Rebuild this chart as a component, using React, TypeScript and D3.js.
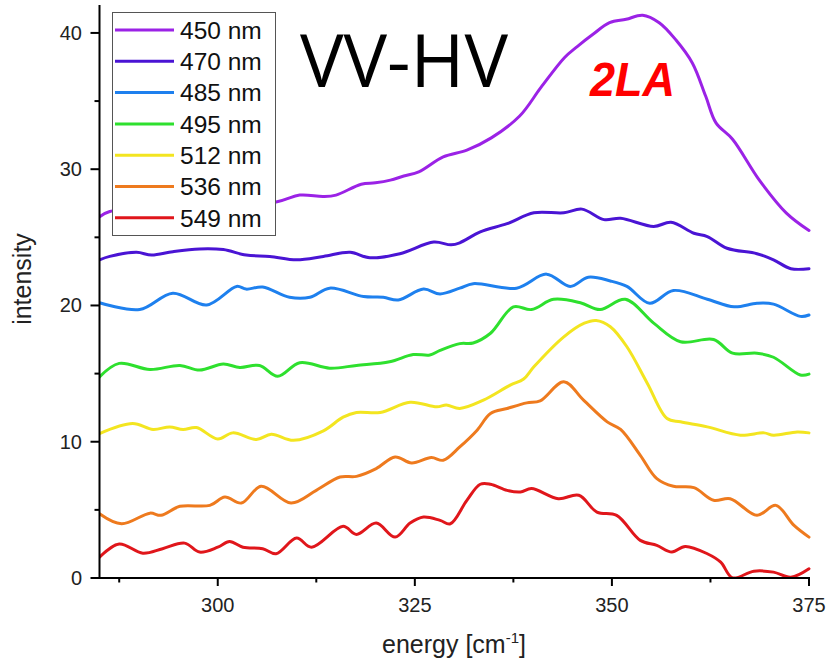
import React from 'react';
import * as d3 from 'd3';

// ---- data ----
const e450 = [285, 286.3, 307.4, 310.4, 313.4, 315.0, 318.2, 320.0, 321.9, 323.6, 325.5, 328.6, 331.6, 334.7, 338.3, 341.0, 344.0, 345.6, 347.6, 349.7, 351.8, 353.9, 356.0, 358.1, 360.2, 361.9, 363.2, 365.3, 368.7, 372.1, 375];
const i450 = [26.5, 26.9, 27.6, 28.1, 28.0, 28.1, 28.9, 29.0, 29.2, 29.5, 29.8, 30.9, 31.4, 32.3, 33.9, 36.0, 38.2, 39.0, 39.9, 40.75, 41.0, 41.3, 40.75, 39.5, 37.8, 35.35, 33.4, 32.2, 29.2, 26.8, 25.5];

const e470 = [285, 286.3, 289.7, 291.6, 294.3, 297.7, 300.7, 303.6, 306.6, 310.0, 313.4, 316.8, 319.3, 323.1, 327.4, 329.6, 330.7, 333.3, 336.7, 340.1, 343.9, 346.2, 349.0, 351.1, 355.3, 357.5, 360.4, 362.1, 364.6, 368.4, 370.5, 372.7, 375];
const i470 = [23.35, 23.6, 23.9, 23.7, 23.95, 24.15, 24.1, 23.7, 23.6, 23.35, 23.6, 23.9, 23.5, 23.8, 24.65, 24.45, 24.6, 25.4, 26.0, 26.8, 26.8, 27.07, 26.3, 26.4, 25.8, 26.1, 25.3, 25.06, 24.2, 23.8, 23.35, 22.7, 22.7];

const e485 = [285, 290.1, 294.3, 298.6, 302.4, 303.6, 305.7, 309.1, 311.7, 314.2, 318.5, 321.0, 322.9, 326.1, 328.2, 330.7, 332.4, 337.9, 341.7, 344.7, 347.0, 349.8, 351.9, 354.8, 357.8, 362.1, 365.5, 368.4, 370.5, 373.9, 375];
const i485 = [20.2, 19.7, 20.9, 20.04, 21.4, 21.2, 21.35, 20.6, 20.6, 21.27, 20.65, 20.6, 20.4, 21.2, 20.85, 21.27, 21.6, 21.27, 22.3, 21.4, 22.07, 21.8, 21.4, 20.16, 21.1, 20.46, 19.9, 20.16, 20.1, 19.2, 19.3];

const e495 = [285, 287.5, 291.4, 295.2, 297.7, 300.7, 302.8, 305.3, 307.6, 310.4, 314.2, 317.6, 321.8, 324.8, 326.9, 328.2, 330.7, 332.4, 334.6, 337.5, 339.8, 342.6, 346.0, 348.5, 351.7, 355.3, 358.7, 362.9, 365.3, 368.4, 370.5, 373.9, 375];
const i495 = [14.76, 15.75, 15.3, 15.6, 15.26, 15.7, 15.45, 15.6, 14.8, 15.8, 15.4, 15.6, 15.87, 16.4, 16.36, 16.7, 17.2, 17.25, 17.96, 19.9, 19.7, 20.45, 20.2, 19.7, 20.45, 18.7, 17.34, 17.5, 16.5, 16.5, 16.2, 14.9, 14.96];

const e512 = [285, 289.2, 291.8, 293.9, 295.6, 297.3, 300.0, 301.9, 304.9, 306.8, 309.6, 313.4, 315.9, 317.6, 320.6, 324.4, 327.8, 329.0, 330.7, 333.7, 337.1, 338.8, 340.1, 343.9, 346.5, 348.0, 349.8, 351.9, 354.5, 357.0, 358.7, 362.1, 366.3, 369.3, 370.5, 373.5, 375];
const i512 = [10.6, 11.34, 10.9, 11.09, 10.9, 11.04, 10.2, 10.65, 10.16, 10.55, 10.1, 10.8, 11.8, 12.15, 12.15, 12.9, 12.56, 12.7, 12.44, 13.05, 14.15, 14.6, 15.5, 17.7, 18.7, 18.9, 18.44, 16.97, 14.28, 11.7, 11.46, 11.09, 10.48, 10.65, 10.48, 10.72, 10.65];

const e536 = [285, 287.8, 291.4, 292.8, 295.2, 299.0, 300.9, 303.0, 305.5, 309.3, 312.5, 315.5, 317.6, 320.1, 322.5, 324.6, 327.1, 328.6, 330.7, 332.9, 334.6, 336.7, 339.2, 340.9, 343.9, 346.4, 349.4, 351.1, 353.6, 355.7, 357.8, 360.4, 362.9, 365.0, 368.4, 370.8, 373.1, 375];
const i536 = [4.72, 3.98, 4.76, 4.6, 5.26, 5.33, 5.94, 5.5, 6.73, 5.5, 6.43, 7.41, 7.46, 8.03, 8.88, 8.44, 8.84, 8.64, 9.62, 10.85, 12.07, 12.44, 12.85, 13.0, 14.4, 13.05, 11.46, 10.9, 9.0, 7.29, 6.73, 6.63, 5.7, 5.82, 4.6, 5.33, 3.86, 3.0];

const e549 = [285, 287.5, 290.5, 293.0, 295.8, 297.7, 300.0, 301.5, 303.2, 305.7, 307.4, 310.0, 311.9, 315.9, 317.6, 320.1, 322.5, 324.4, 326.1, 328.2, 329.5, 331.6, 333.3, 334.6, 336.7, 338.4, 339.8, 343.2, 345.8, 348.1, 350.6, 353.6, 355.7, 357.6, 359.3, 362.1, 363.8, 365.3, 368.0, 370.5, 372.7, 375];
const i549 = [1.53, 2.5, 1.82, 2.15, 2.56, 1.9, 2.26, 2.68, 2.26, 2.15, 1.78, 2.93, 2.26, 3.79, 3.2, 4.03, 3.0, 4.03, 4.47, 4.23, 3.98, 5.7, 6.88, 6.88, 6.43, 6.31, 6.56, 5.82, 6.07, 4.84, 4.6, 2.76, 2.39, 1.9, 2.32, 1.78, 1.16, 0.01, 0.5, 0.43, 0.06, 0.68];

const seriesLabels = ['450 nm', '470 nm', '485 nm', '495 nm', '512 nm', '536 nm', '549 nm'];
const seriesColors = ['#9B22E6', '#4A14D4', '#1E80EE', '#2EE02E', '#F3E520', '#EE7A1E', '#E0161B'];
const seriesX = [e450, e470, e485, e495, e512, e536, e549];
const seriesY = [i450, i470, i485, i495, i512, i536, i549];

const xMajor = [300, 325, 350, 375];
const xMinor = [287.5, 312.5, 337.5, 362.5];
const yMajor = [0, 10, 20, 30, 40];
const yMinor = [5, 15, 25, 35];

const W = 831;
const H = 662;
const FONT = 'Liberation Sans, Arial, sans-serif';

export default function App() {
  const x = d3.scaleLinear().domain([285, 375]).range([99.5, 809]);
  const y = d3.scaleLinear().domain([0, 42.05]).range([578, 5]);

  const line = d3
    .line<[number, number]>()
    .x((d) => x(d[0]))
    .y((d) => y(d[1]))
    .curve(d3.curveCatmullRom.alpha(0.5));

  const x0 = x(285);
  const y0 = y(0);

  const legX = 112.5;
  const legY = 12.5;
  const legW = 163;
  const legH = 223;
  const rowStep = 31.3;
  const row0 = 30;

  return (
    <svg width={W} height={H} style={{ position: 'absolute', left: 0, top: 0, background: '#fff' }}>
      <rect x={0} y={0} width={W} height={H} fill="#fff" />
      <defs>
        <clipPath id="plotclip">
          <rect x={x0} y={0} width={x(375) - x0 + 2} height={y0 + 1} />
        </clipPath>
      </defs>
      {/* series */}
      <g clipPath="url(#plotclip)">
        {seriesX.map((xs, si) => {
          const pts: [number, number][] = xs.map((v, k) => [v, seriesY[si][k]]);
          return (
            <path
              key={si}
              d={line(pts) || ''}
              fill="none"
              stroke={seriesColors[si]}
              strokeWidth={3}
              strokeLinejoin="round"
              strokeLinecap="round"
            />
          );
        })}
      </g>

      {/* axes */}
      <line x1={x0} x2={x0} y1={y(42.05)} y2={y0 + 1} stroke="#000" strokeWidth={2} />
      <line x1={x0 - 1} x2={x(375) + 1} y1={y0} y2={y0} stroke="#000" strokeWidth={2} />
      {xMajor.map((t) => (
        <g key={'xm' + t}>
          <line x1={x(t)} x2={x(t)} y1={y0} y2={y0 + 8} stroke="#000" strokeWidth={2} />
          <text x={x(t)} y={612} textAnchor="middle" fontFamily={FONT} fontSize={20} fill="#222">
            {t}
          </text>
        </g>
      ))}
      {xMinor.map((t) => (
        <line key={'xn' + t} x1={x(t)} x2={x(t)} y1={y0} y2={y0 + 4.5} stroke="#000" strokeWidth={2} />
      ))}
      {yMajor.map((t) => (
        <g key={'ym' + t}>
          <line x1={x0 - 9} x2={x0} y1={y(t)} y2={y(t)} stroke="#000" strokeWidth={2} />
          <text x={82} y={y(t)} dy="0.35em" textAnchor="end" fontFamily={FONT} fontSize={20} fill="#222">
            {t}
          </text>
        </g>
      ))}
      {yMinor.map((t) => (
        <line key={'yn' + t} x1={x0 - 5} x2={x0} y1={y(t)} y2={y(t)} stroke="#000" strokeWidth={2} />
      ))}

      {/* axis titles */}
      <text x={454} y={653} textAnchor="middle" fontFamily={FONT} fontSize={25} fill="#222">
        energy [cm<tspan dy={-10} fontSize={15}>-1</tspan><tspan dy={10}>]</tspan>
      </text>
      <text
        transform="translate(31,279) rotate(-90)"
        textAnchor="middle"
        fontFamily={FONT}
        fontSize={25}
        fill="#222"
      >
        intensity
      </text>

      {/* legend */}
      <rect x={legX} y={legY} width={legW} height={legH} fill="#fff" stroke="#555" strokeWidth={1} />
      {seriesLabels.map((lab, i) => (
        <g key={lab}>
          <line
            x1={115}
            x2={174}
            y1={row0 + i * rowStep}
            y2={row0 + i * rowStep}
            stroke={seriesColors[i]}
            strokeWidth={3}
          />
          <text x={180} y={row0 + i * rowStep} dy="0.36em" fontFamily={FONT} fontSize={24.5} fill="#111">
            {lab}
          </text>
        </g>
      ))}

      {/* annotations */}
      <text x={300} y={87} fontFamily="Open Sans, Noto Sans, sans-serif" fontSize={74} fill="#000" textLength={208} lengthAdjust="spacingAndGlyphs">
        VV-HV
      </text>
      <text x={590} y={96} fontFamily={FONT} fontWeight="bold" fontStyle="italic" fontSize={48} fill="#FF0000" textLength={85} lengthAdjust="spacingAndGlyphs">
        2LA
      </text>
    </svg>
  );
}
